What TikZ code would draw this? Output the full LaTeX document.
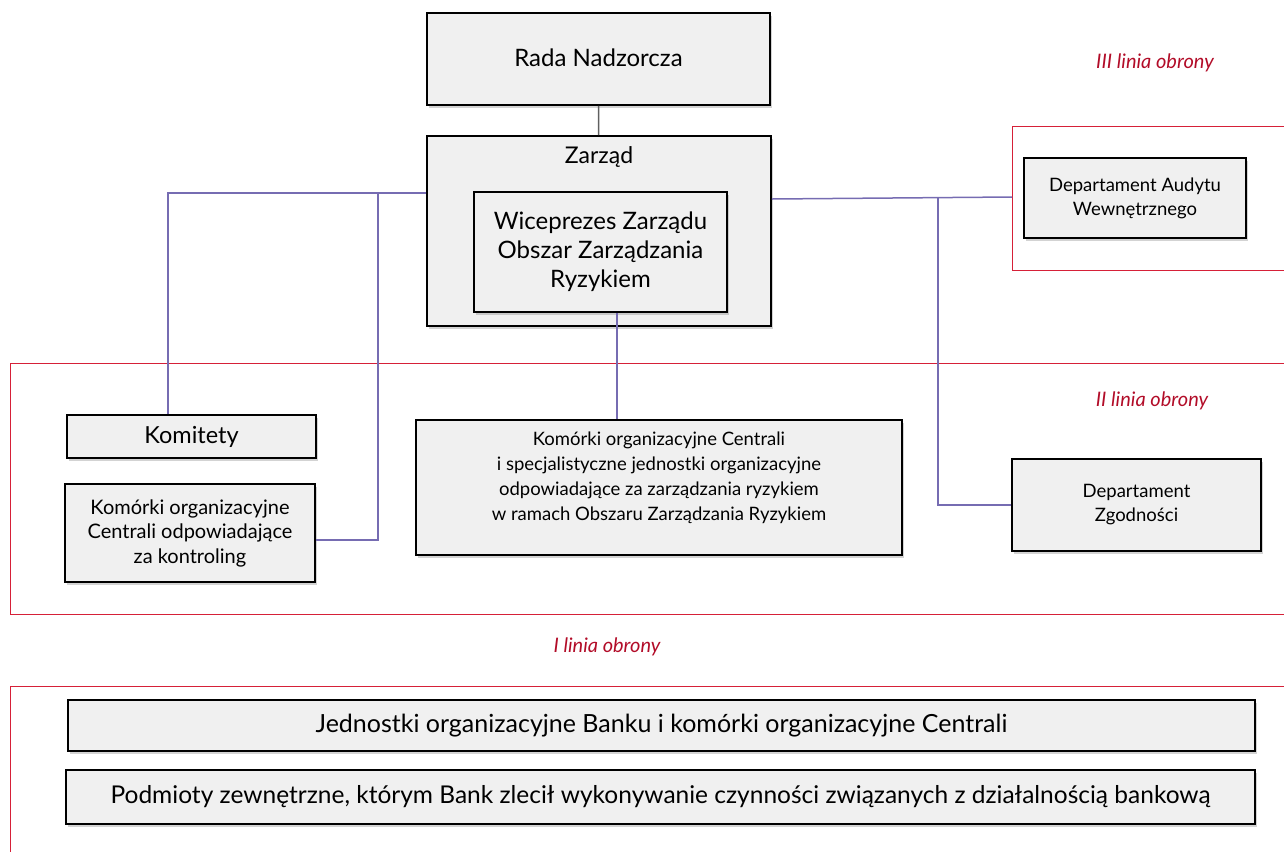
\documentclass[tikz,border=0pt]{standalone}
\usepackage{fontspec}
\setmainfont{Lato}
\usetikzlibrary{shadows}

\definecolor{boxFill}{RGB}{240,240,240}
\definecolor{lineViolet}{RGB}{118,108,178}
\definecolor{lineGray}{RGB}{95,95,95}
\definecolor{frameRed}{RGB}{214,32,56}
\definecolor{obronyRed}{RGB}{178,12,40}

\tikzset{
  box/.style={draw=black, line width=1.6pt, fill=boxFill, inner sep=0pt, align=center,
    drop shadow={shadow xshift=1.5pt, shadow yshift=-3pt, opacity=0.35}},
  link/.style={draw=lineViolet, line width=1.5pt},
  frame/.style={draw=frameRed, line width=0.9pt},
  obrona/.style={text=obronyRed, font=\fontsize{20}{24}\selectfont\itshape}
}

\begin{document}
\begin{tikzpicture}[x=1pt,y=-1pt]

  \useasboundingbox (0,0) rectangle (1284,852);

  % Frames of the lines of defence
  \draw[frame] (1284,126) -- (1012,126) -- (1012,270) -- (1284,270);
  \draw[frame] (1284,363) -- (10,363) -- (10,614) -- (1284,614);
  \draw[frame] (1284,686) -- (10,686) -- (10,852);

  \node[obrona] (linia3) at (1155,63) {III linia obrony};
  \node[obrona] (linia2) at (1152,401) {II linia obrony};
  \node[obrona] (linia1) at (607,647) {I linia obrony};

  % Top boxes
  \node[box, minimum width=343, minimum height=92, font=\fontsize{24}{28}\selectfont] (rada) at (598.5,59) {\raisebox{3pt}{Rada Nadzorcza}};
  \node[box, minimum width=344, minimum height=190] (zarzad) at (599,231) {};
  \node[font=\fontsize{23}{28}\selectfont, anchor=north] (zarzadTxt) at (599,143) {Zarząd};
  \node[box, minimum width=253, minimum height=120, font=\fontsize{24}{29}\selectfont] (wiceprezes) at (600.5,252)
    {Wiceprezes Zarządu\\Obszar Zarządzania\\Ryzykiem};

  % II line boxes
  \node[box, minimum width=249, minimum height=43, font=\fontsize{23.5}{26}\selectfont] (komitety) at (191.5,436.5) {Komitety};
  \node[box, minimum width=250, minimum height=98, font=\fontsize{20}{24.5}\selectfont] (kontroling) at (190,533)
    {Komórki organizacyjne\\Centrali odpowiadające\\za kontroling};
  \node[box, minimum width=486, minimum height=135, font=\fontsize{18.5}{25}\selectfont] (centrali) at (659,487.5)
    {Komórki organizacyjne Centrali\\i specjalistyczne jednostki organizacyjne\\odpowiadające za zarządzania ryzykiem\\w ramach Obszaru Zarządzania Ryzykiem\\[-2pt]};
  \node[box, minimum width=249, minimum height=92, font=\fontsize{18.5}{24}\selectfont] (zgodnosc) at (1136.5,505)
    {Departament\\Zgodności};
  \node[box, minimum width=222, minimum height=80, font=\fontsize{18.5}{24}\selectfont] (audyt) at (1135,198)
    {Departament Audytu\\Wewnętrznego};

  % I line boxes
  \node[box, minimum width=1187, minimum height=51, font=\fontsize{25}{28}\selectfont] (jednostki) at (661.5,725.5)
    {Jednostki organizacyjne Banku i komórki organizacyjne Centrali};
  \node[box, minimum width=1189, minimum height=54, font=\fontsize{24.5}{28}\selectfont] (podmioty) at (660.5,797)
    {Podmioty zewnętrzne, którym Bank zlecił wykonywanie czynności związanych z działalnością bankową};

  % Connectors
  \coordinate (lewy) at (378,193);
  \coordinate (prawy) at (938,198);
  \draw[draw=lineGray, line width=1.5pt] (rada) -- (zarzad);
  \draw[link] (zarzad.west |- lewy) -| (komitety.north -| 168,0);
  \draw[link] (lewy) |- (kontroling.east |- 0,540);
  \draw[link] (zarzad.east |- 0,199) -- (1012,197);
  \draw[link] (prawy) |- (zgodnosc.west);
  \draw[link] (wiceprezes.south -| 617,0) -- (centrali.north -| 617,0);

\end{tikzpicture}
\end{document}
